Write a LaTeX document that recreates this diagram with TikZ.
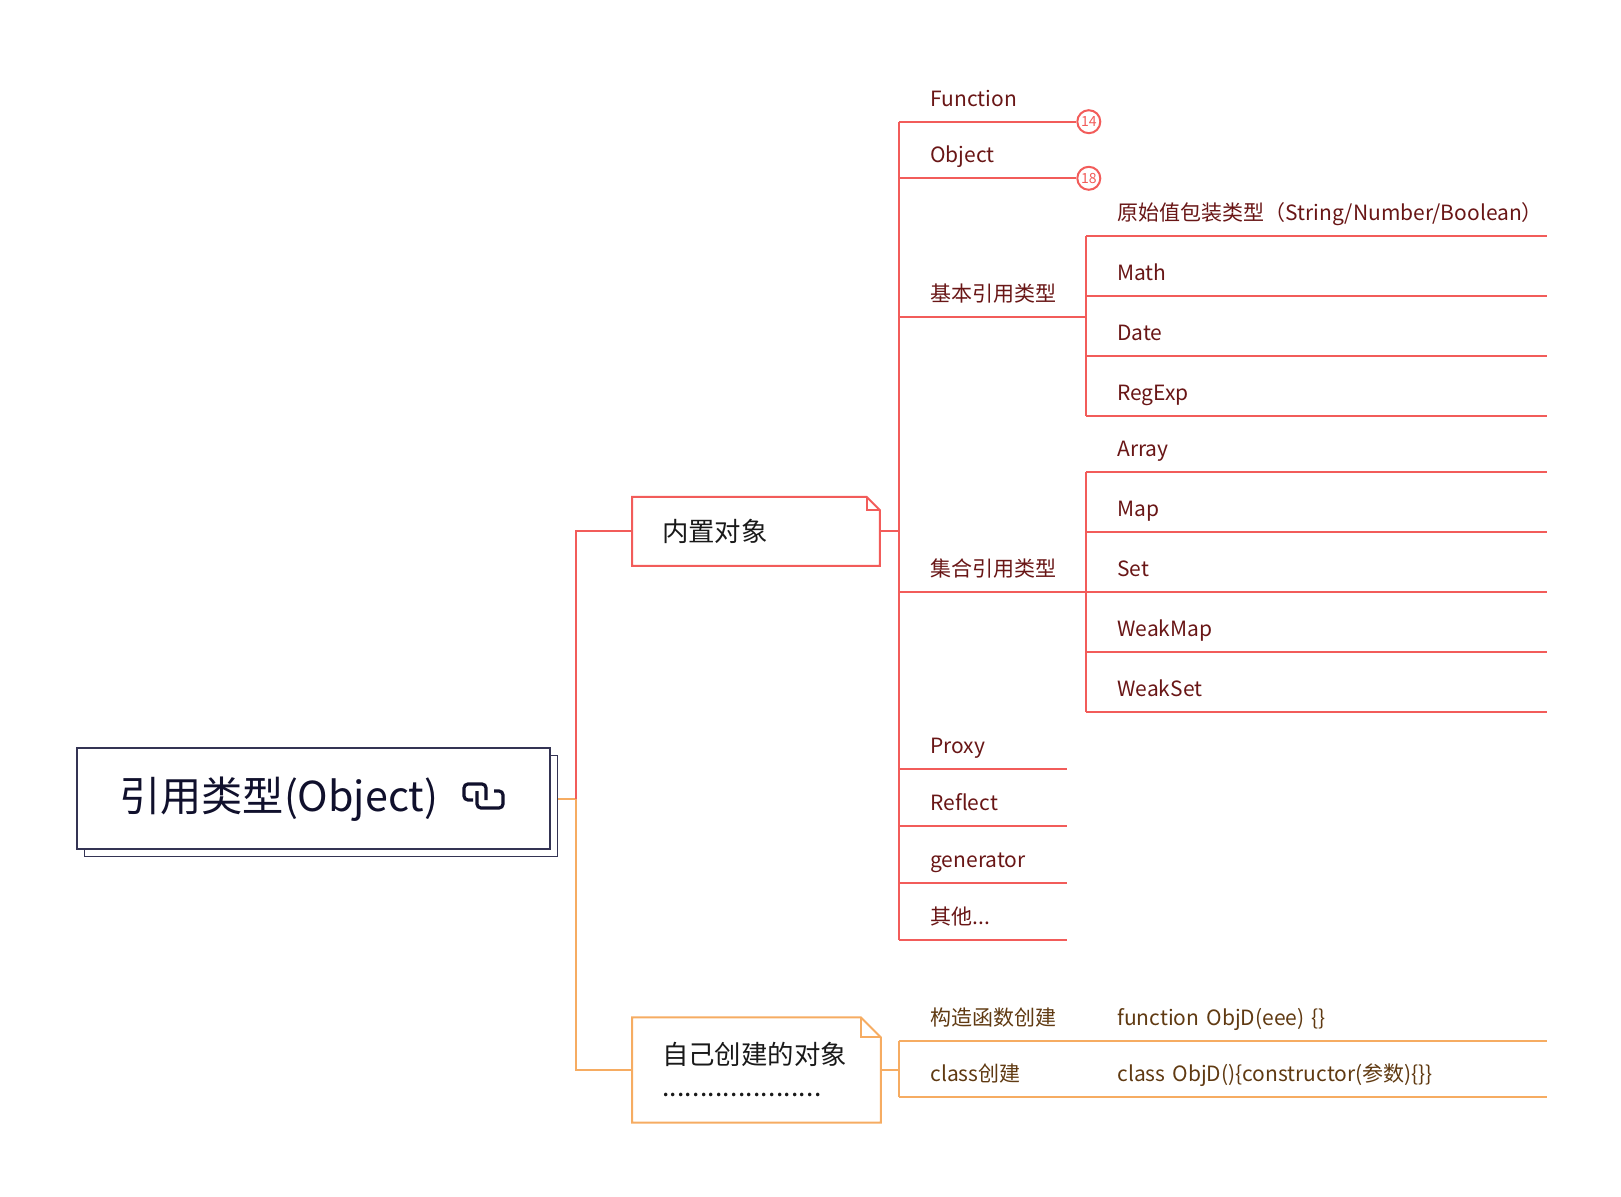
\documentclass[tikz,border=0pt]{standalone}
\usepackage{fontspec}
\setmainfont{Noto Sans CJK SC}
\usetikzlibrary{shadows}
\definecolor{branchred}{RGB}{242,92,90}
\definecolor{itemred}{RGB}{105,22,22}
\definecolor{branchorange}{RGB}{246,172,98}
\definecolor{itemorange}{RGB}{96,58,18}
\definecolor{rootline}{RGB}{52,52,84}
\definecolor{roottext}{RGB}{16,16,44}
\newcommand\dotrow{\foreach \d in {1,...,21}{\makebox[3.8pt][l]{.}}}

\begin{document}
\begin{tikzpicture}[
  x=0.5pt, y=-0.5pt,
  every node/.style={
    rectangle,
  },
  redline/.style={draw=branchred, line width=1pt},
  orangeline/.style={draw=branchorange, line width=1pt},
  topic/.style={anchor=south west, inner xsep=0pt, inner ysep=7.6pt, text depth=0pt,
    text width=#1, align=left, font=\fontsize{10.5}{12.6}\selectfont,
    execute at begin node={\hspace*{15.5pt}}},
  redtopic/.style={topic=#1, text=itemred,
    append after command={(\tikzlastnode.south west) edge[redline] (\tikzlastnode.south east)}},
  orangetopic/.style={topic=#1, text=itemorange,
    append after command={(\tikzlastnode.south west) edge[orangeline] (\tikzlastnode.south east)}},
  count/.style={circle, draw=branchred, line width=1pt, fill=white, text=branchred,
    minimum size=11.5pt, inner sep=0pt, anchor=west, font=\fontsize{7}{8}\selectfont},
  notebox/.style={anchor=north west, inner xsep=14.85pt, align=left, text=black!90,
    font=\fontsize{13.2}{16}\selectfont},
]
\useasboundingbox (0,0) rectangle (1621,1197);

% root topic
\node[draw=rootline, line width=1.2pt, fill=white, anchor=north west,
  minimum width=236.5pt, minimum height=50.5pt, inner xsep=21pt, text width=194.5pt,
  align=left, text=roottext, font=\fontsize{20.6}{24}\selectfont,
  copy shadow={shadow xshift=3.5pt, shadow yshift=-3.5pt, draw=rootline, line width=0.6pt, fill=white}]
  (root) at (76,747) {引用类型(Object)};
\draw[roottext, line width=1.6pt, rounded corners=2pt] (473,800) -- (464,800) -- (464,784) -- (486,784) -- (486,800);
\draw[roottext, line width=1.6pt, rounded corners=2pt] (494,791) -- (503,791) -- (503,808) -- (477,808) -- (477,791);

% main branches
\node[notebox, minimum width=123.5pt, minimum height=34pt, text width=93.8pt] (builtin) at (632,497) {内置对象};
\draw[redline] (builtin.north west) -- ([xshift=-6.5pt]builtin.north east) -- ([yshift=-6.5pt]builtin.north east)
  -- (builtin.south east) -- (builtin.south west) -- cycle;
\draw[redline] ([xshift=-6.5pt]builtin.north east) |- ([yshift=-6.5pt]builtin.north east);

\node[notebox, minimum width=124pt, minimum height=52.2pt, text width=94.3pt] (own) at (632,1017.3) {自己创建的对象\\\dotrow};
\draw[orangeline] (own.north west) -- ([xshift=-10pt]own.north east) -- ([yshift=-10pt]own.north east)
  -- (own.south east) -- (own.south west) -- cycle;
\draw[orangeline] ([xshift=-10pt]own.north east) |- ([yshift=-10pt]own.north east);

% built-in objects
\node[redtopic=88.25pt] (function) at (899,121.7) {Function};
\node[count] (fcount) at (function.south east) {14};
\node[redtopic=88.25pt] (object) at (899,178.3) {Object};
\node[count] (ocount) at (object.south east) {18};
\node[redtopic=93.5pt] (basic) at (899,317.5) {基本引用类型};
\node[redtopic=93.5pt] (collection) at (899,592) {集合引用类型};
\node[redtopic=83.5pt] (proxy) at (899,769) {Proxy};
\node[redtopic=83.5pt] (reflect) at (899,826) {Reflect};
\node[redtopic=83.5pt] (generator) at (899,883) {generator};
\node[redtopic=83.5pt] (other) at (899,940) {其他...};

\node[redtopic=230pt] (primitive) at (1086,235.7) {原始值包装类型（String/Number/Boolean）};
\node[redtopic=230pt] (math) at (1086,295.7) {Math};
\node[redtopic=230pt] (date) at (1086,355.7) {Date};
\node[redtopic=230pt] (regexp) at (1086,415.7) {RegExp};

\node[redtopic=230pt] (array) at (1086,472) {Array};
\node[redtopic=230pt] (map) at (1086,532) {Map};
\node[redtopic=230pt] (set) at (1086,592) {Set};
\node[redtopic=230pt] (weakmap) at (1086,652) {WeakMap};
\node[redtopic=230pt] (weakset) at (1086,712) {WeakSet};

% own objects
\node[orangetopic=93.5pt] (ctor) at (899,1040.7) {构造函数创建};
\node[orangetopic=230pt] (ctorcode) at (1086,1040.7) {function ObjD(eee) \{\}};
\node[orangetopic=93.5pt] (cls) at (899,1097.3) {class创建};
\node[orangetopic=230pt] (clscode) at (1086,1097.3) {class ObjD()\{constructor(参数)\{\}\}};

% connectors
\draw[orangeline] ([xshift=3.5pt]root.east) -- ++(18,0) coordinate (hub) |- (own.west);
\draw[redline] (hub) |- (builtin.west);
\draw[redline] (builtin.east) -- (builtin.east -| function.south west);
\draw[redline] (function.south west) -- (other.south west);
\draw[redline] (primitive.south west) -- (regexp.south west);
\draw[redline] (array.south west) -- (weakset.south west);
\draw[orangeline] (own.east) -- (own.east -| ctor.south west);
\draw[orangeline] (ctor.south west) -- (cls.south west);
\end{tikzpicture}
\end{document}
